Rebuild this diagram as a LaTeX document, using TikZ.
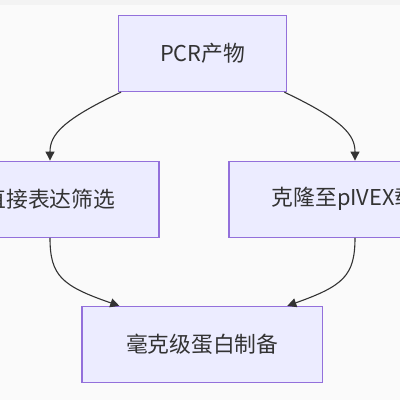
\documentclass[tikz,border=0pt]{standalone}
\usepackage{fontspec}
\setmainfont{Noto Sans CJK SC}
\usetikzlibrary{arrows.meta}
\definecolor{nodefill}{HTML}{ECECFF}
\definecolor{nodestroke}{HTML}{9370DB}
\definecolor{linecol}{HTML}{333333}
\definecolor{bgcol}{HTML}{FAFAFA}
\definecolor{stripcol}{HTML}{F3F3F3}
\begin{document}
\begin{tikzpicture}[x=1pt,y=-1pt,
  box/.style={draw=nodestroke,fill=nodefill,line width=1.3pt,minimum height=76pt,
    inner sep=0pt,text=linecol,font=\fontsize{21.8}{24}\selectfont},
  conn/.style={draw=linecol,line width=1.1pt,-{Triangle[length=9pt,width=9pt]}}]
\useasboundingbox (0,0) rectangle (400,400);
\clip (0,0) rectangle (400,400);
\fill[bgcol] (0,0) rectangle (400,400);
\fill[stripcol] (0,0) rectangle (400,4.5);
\node[box,minimum width=168pt] (top) at (202.7,53.5) {PCR产物};
\node[box,minimum width=218pt] (left) at (50,199.2) {直接表达筛选};
\node[box,minimum width=252pt] (right) at (355,199.2) {克隆至pIVEX载体};
\node[box,minimum width=240.7pt] (bot) at (202.3,344.5) {毫克级蛋白制备};
\draw[conn] ([xshift=3pt]top.south west) .. controls (62,120) and (50,135) .. (left.north);
\draw[conn] ([xshift=-3pt]top.south east) .. controls (343,120) and (355,135) .. (right.north);
\draw[conn] (left.south) .. controls (50,276) and (62,286) .. ([xshift=38pt]bot.north west);
\draw[conn] (right.south) .. controls (355,276) and (343,286) .. ([xshift=-36pt]bot.north east);
\end{tikzpicture}
\end{document}
